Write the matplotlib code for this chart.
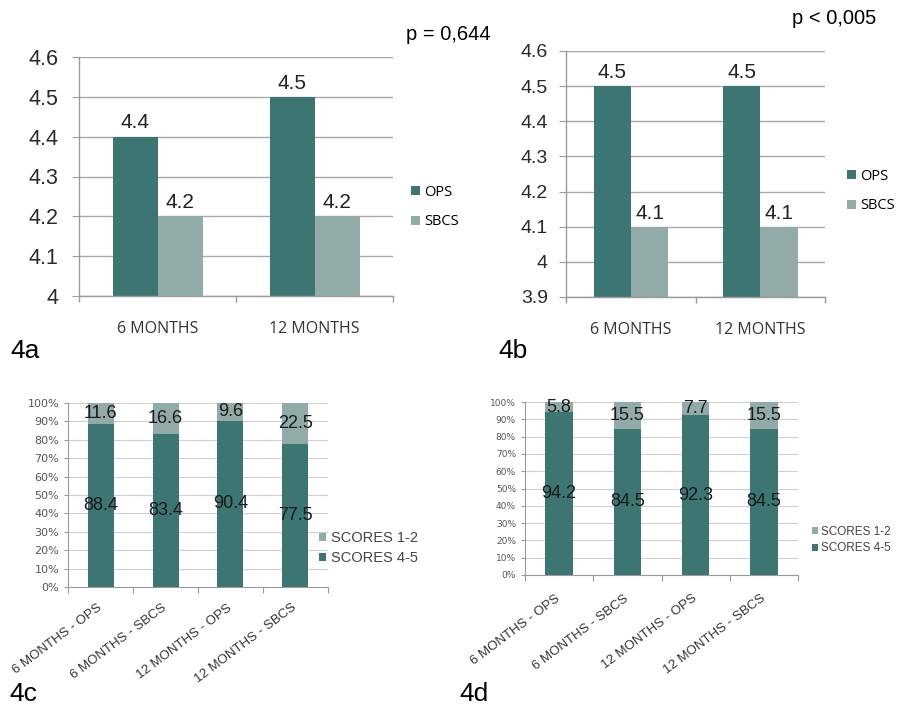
import matplotlib
matplotlib.use("Agg")
import matplotlib.pyplot as plt
from matplotlib.ticker import PercentFormatter, FuncFormatter

# data
months = ["6 MONTHS", "12 MONTHS"]
ops_a = [4.4, 4.5]
sbcs_a = [4.2, 4.2]
ops_b = [4.5, 4.5]
sbcs_b = [4.1, 4.1]
ticks_a = [4.0, 4.1, 4.2, 4.3, 4.4, 4.5, 4.6]
ticks_b = [3.9, 4.0, 4.1, 4.2, 4.3, 4.4, 4.5, 4.6]

groups = ["6 MONTHS - OPS", "6 MONTHS - SBCS", "12 MONTHS - OPS", "12 MONTHS - SBCS"]
high_c = [88.4, 83.4, 90.4, 77.5]
low_c = [11.6, 16.6, 9.6, 22.5]
high_d = [94.2, 84.5, 92.3, 84.5]
low_d = [5.8, 15.5, 7.7, 15.5]
pct_ticks = [0, 10, 20, 30, 40, 50, 60, 70, 80, 90, 100]

DARK = "#3d7572"
LIGHT = "#93aba8"
W, H = 900, 707

fig = plt.figure(figsize=(9, 7.07), dpi=100)


def box(l, t, r, b):
    return [l / W, 1 - b / H, (r - l) / W, (b - t) / H]


def fx(x):
    return x / W


def fy(y):
    return 1 - y / H


def style_axes(ax, ncat, grid_color, lw):
    for s in ["top", "right"]:
        ax.spines[s].set_visible(False)
    for s in ["left", "bottom"]:
        ax.spines[s].set_color("#9a9a9a")
        ax.spines[s].set_linewidth(lw)
    ax.set_axisbelow(True)
    ax.yaxis.grid(True, color=grid_color, linewidth=lw)
    ax.set_xlim(-0.5, ncat - 0.5)
    ax.set_xticks([i - 0.5 for i in range(ncat + 1)], minor=True)
    ax.tick_params(axis="x", which="major", length=0)
    ax.tick_params(axis="x", which="minor", length=4, color="#9a9a9a", width=lw)


def grouped(rect, ops, sbcs, ticks, leg_xy, ytick_fs, ypad):
    ax = fig.add_axes(box(*rect))
    x = list(range(len(months)))
    b1 = ax.bar([i - 0.285 for i in x], ops, width=0.285, align="edge",
                color=DARK, label="OPS")
    b2 = ax.bar(x, sbcs, width=0.29, align="edge", color=LIGHT, label="SBCS")
    ax.set_ylim(ticks[0], ticks[-1])
    ax.set_yticks(ticks)
    ax.yaxis.set_major_formatter(FuncFormatter(lambda v, p: f"{v:g}"))
    ax.tick_params(axis="y", labelsize=ytick_fs, pad=ypad, length=5,
                   color="#9a9a9a", labelcolor="#2a2a2a")
    for lab in ax.get_yticklabels():
        lab.set_fontfamily("Liberation Sans")
    ax.set_xticks(x)
    ax.set_xticklabels(months, fontsize=11.5, family="Open Sans", color="#333333")
    ax.tick_params(axis="x", pad=18)
    style_axes(ax, len(months), "#a8a8a8", 1.0)
    for bars in (b1, b2):
        ax.bar_label(bars, labels=[f"{v:g}" for v in bars.datavalues], padding=3,
                     fontsize=15, family="Liberation Sans", color="#222222")
    ax.legend(loc="center left", bbox_to_anchor=leg_xy, bbox_transform=fig.transFigure,
              frameon=False, handlelength=0.6, handleheight=0.6,
              handletextpad=0.3, labelspacing=1.0, borderpad=0, borderaxespad=0,
              prop={"family": "Open Sans", "size": 10.5})
    return ax


def stacked(rect, high, low, leg_xy, tick_fs, leg_fs, xpad):
    ax = fig.add_axes(box(*rect))
    x = list(range(len(groups)))
    b1 = ax.bar(x, high, width=0.4, color=DARK, label="SCORES 4-5")
    b2 = ax.bar(x, low, width=0.4, bottom=high, color=LIGHT, label="SCORES 1-2")
    ax.set_ylim(0, 100)
    ax.set_yticks(pct_ticks)
    ax.yaxis.set_major_formatter(PercentFormatter(decimals=0))
    ax.tick_params(axis="y", labelsize=tick_fs, labelcolor="#555555", length=3,
                   color="#9a9a9a")
    ax.set_xticks(x)
    ax.set_xticklabels(groups, rotation=37, ha="right", va="center",
                       rotation_mode="anchor", fontsize=9.5, color="#333333",
                       family="Liberation Sans")
    ax.tick_params(axis="x", pad=xpad)
    style_axes(ax, len(groups), "#cfcfcf", 0.8)
    for bars in (b1, b2):
        ax.bar_label(bars, labels=[f"{v:g}" for v in bars.datavalues],
                     label_type="center", fontsize=13,
                     family="Liberation Sans", color="#1a1a1a")
    handles, labels = ax.get_legend_handles_labels()
    ax.legend(handles[::-1], labels[::-1], loc="center left", bbox_to_anchor=leg_xy,
              bbox_transform=fig.transFigure, frameon=False,
              handlelength=0.5, handleheight=0.5, handletextpad=0.3,
              labelspacing=0.4, borderpad=0, borderaxespad=0,
              prop={"family": "Liberation Sans", "size": leg_fs},
              labelcolor="#444444")
    return ax


grouped((79, 57, 393, 296), ops_a, sbcs_a, ticks_a, (fx(411), fy(207)), 15.5, 10)
grouped((566, 51, 825, 297), ops_b, sbcs_b, ticks_b, (fx(847), fy(191)), 14, 8)
stacked((68, 403, 328, 587), high_c, low_c, (fx(319), fy(548)), 8, 10.5, 14)
stacked((525, 402, 798, 575), high_d, low_d, (fx(812), fy(540)), 6.5, 8.5, 16)

fig.text(fx(406), fy(40), "p = 0,644", fontsize=14.5, family="Liberation Sans")
fig.text(fx(792), fy(24), "p < 0,005", fontsize=14.5, family="Liberation Sans")
for lab, x0, y0 in [("4a", 10, 358), ("4b", 498, 358)]:
    fig.text(fx(x0), fy(y0), lab, fontsize=19, family="Liberation Sans", va="baseline")
for lab, x0 in [("4c", 9), ("4d", 459)]:
    fig.text(fx(x0), fy(706), lab, fontsize=19, family="Liberation Sans", va="bottom")

fig.savefig("out.png", dpi=100)
